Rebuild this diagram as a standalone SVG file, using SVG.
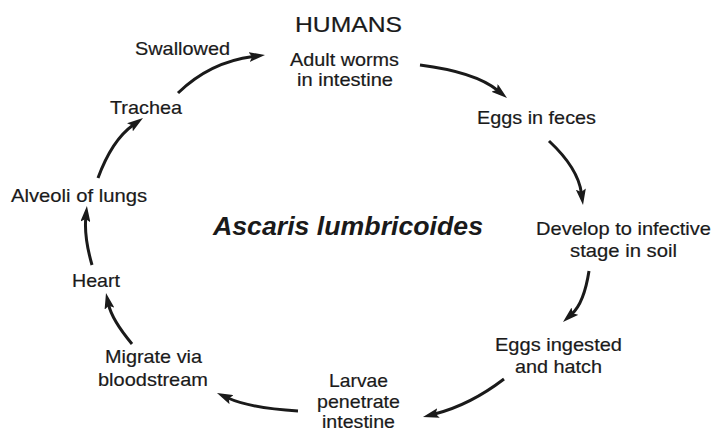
<svg xmlns="http://www.w3.org/2000/svg" width="712" height="433" viewBox="0 0 712 433">
<style>
.t{font-family:"Liberation Sans",Arial,sans-serif;font-size:19px;fill:#1a1a1a;stroke:#1a1a1a;stroke-width:0.2}
.h{font-size:22px}
.sp{font-family:"Liberation Sans",Arial,sans-serif;font-size:25px;font-weight:bold;font-style:italic;fill:#1a1a1a}
.c{fill:none;stroke:#1a1a1a;stroke-width:3;marker-end:url(#ah)}
</style>
<defs>
<marker id="ah" viewBox="0 0 16 10" markerWidth="16" markerHeight="10" refX="4" refY="5" orient="auto" markerUnits="userSpaceOnUse">
<path d="M0,0 L16,5 L0,10 L3,5 z" fill="#1a1a1a"/>
</marker>
</defs>
<rect width="712" height="433" fill="#fff"/>
<g id="title"><text class="t h" x="295" y="32" textLength="107" lengthAdjust="spacingAndGlyphs">HUMANS</text></g>
<g id="species"><text class="sp" x="213" y="235" textLength="270" lengthAdjust="spacingAndGlyphs">Ascaris lumbricoides</text></g>
<g id="adult"><text class="t" x="290" y="66" textLength="109" lengthAdjust="spacingAndGlyphs">Adult worms</text><text class="t" x="297" y="86" textLength="96" lengthAdjust="spacingAndGlyphs">in intestine</text></g>
<g id="eggs-feces"><text class="t" x="477" y="124" textLength="119" lengthAdjust="spacingAndGlyphs">Eggs in feces</text></g>
<g id="develop"><text class="t" x="536" y="235" textLength="175" lengthAdjust="spacingAndGlyphs">Develop to infective</text><text class="t" x="570" y="257" textLength="107" lengthAdjust="spacingAndGlyphs">stage in soil</text></g>
<g id="ingested"><text class="t" x="495" y="351" textLength="127" lengthAdjust="spacingAndGlyphs">Eggs ingested</text><text class="t" x="515" y="373" textLength="87" lengthAdjust="spacingAndGlyphs">and hatch</text></g>
<g id="larvae"><text class="t" x="329" y="387" textLength="59" lengthAdjust="spacingAndGlyphs">Larvae</text><text class="t" x="317" y="408" textLength="83" lengthAdjust="spacingAndGlyphs">penetrate</text><text class="t" x="322" y="428" textLength="73" lengthAdjust="spacingAndGlyphs">intestine</text></g>
<g id="migrate"><text class="t" x="105" y="363" textLength="97" lengthAdjust="spacingAndGlyphs">Migrate via</text><text class="t" x="98" y="386" textLength="110" lengthAdjust="spacingAndGlyphs">bloodstream</text></g>
<g id="heart"><text class="t" x="72" y="287" textLength="48" lengthAdjust="spacingAndGlyphs">Heart</text></g>
<g id="alveoli"><text class="t" x="11" y="202" textLength="136" lengthAdjust="spacingAndGlyphs">Alveoli of lungs</text></g>
<g id="trachea"><text class="t" x="110" y="114" textLength="72" lengthAdjust="spacingAndGlyphs">Trachea</text></g>
<g id="swallowed"><text class="t" x="135" y="55" textLength="95" lengthAdjust="spacingAndGlyphs">Swallowed</text></g>
<g id="connectors">
<path class="c" d="M178,93 Q210,62 253.1,56.5"/>
<path class="c" d="M420,65 Q475,72 497.7,90.4"/>
<path class="c" d="M549,141 Q578,168 581.4,193.1"/>
<path class="c" d="M589,271 Q584,303 571.9,313.9"/>
<path class="c" d="M504,379 Q470,405 434.6,414"/>
<path class="c" d="M298,411 Q250,408 227.9,398"/>
<path class="c" d="M132,344 Q112,320 108.6,304.7"/>
<path class="c" d="M92,265 Q84,237 85.8,217.9"/>
<path class="c" d="M98,178 Q112,140 133.2,125"/>
</g>
</svg>
